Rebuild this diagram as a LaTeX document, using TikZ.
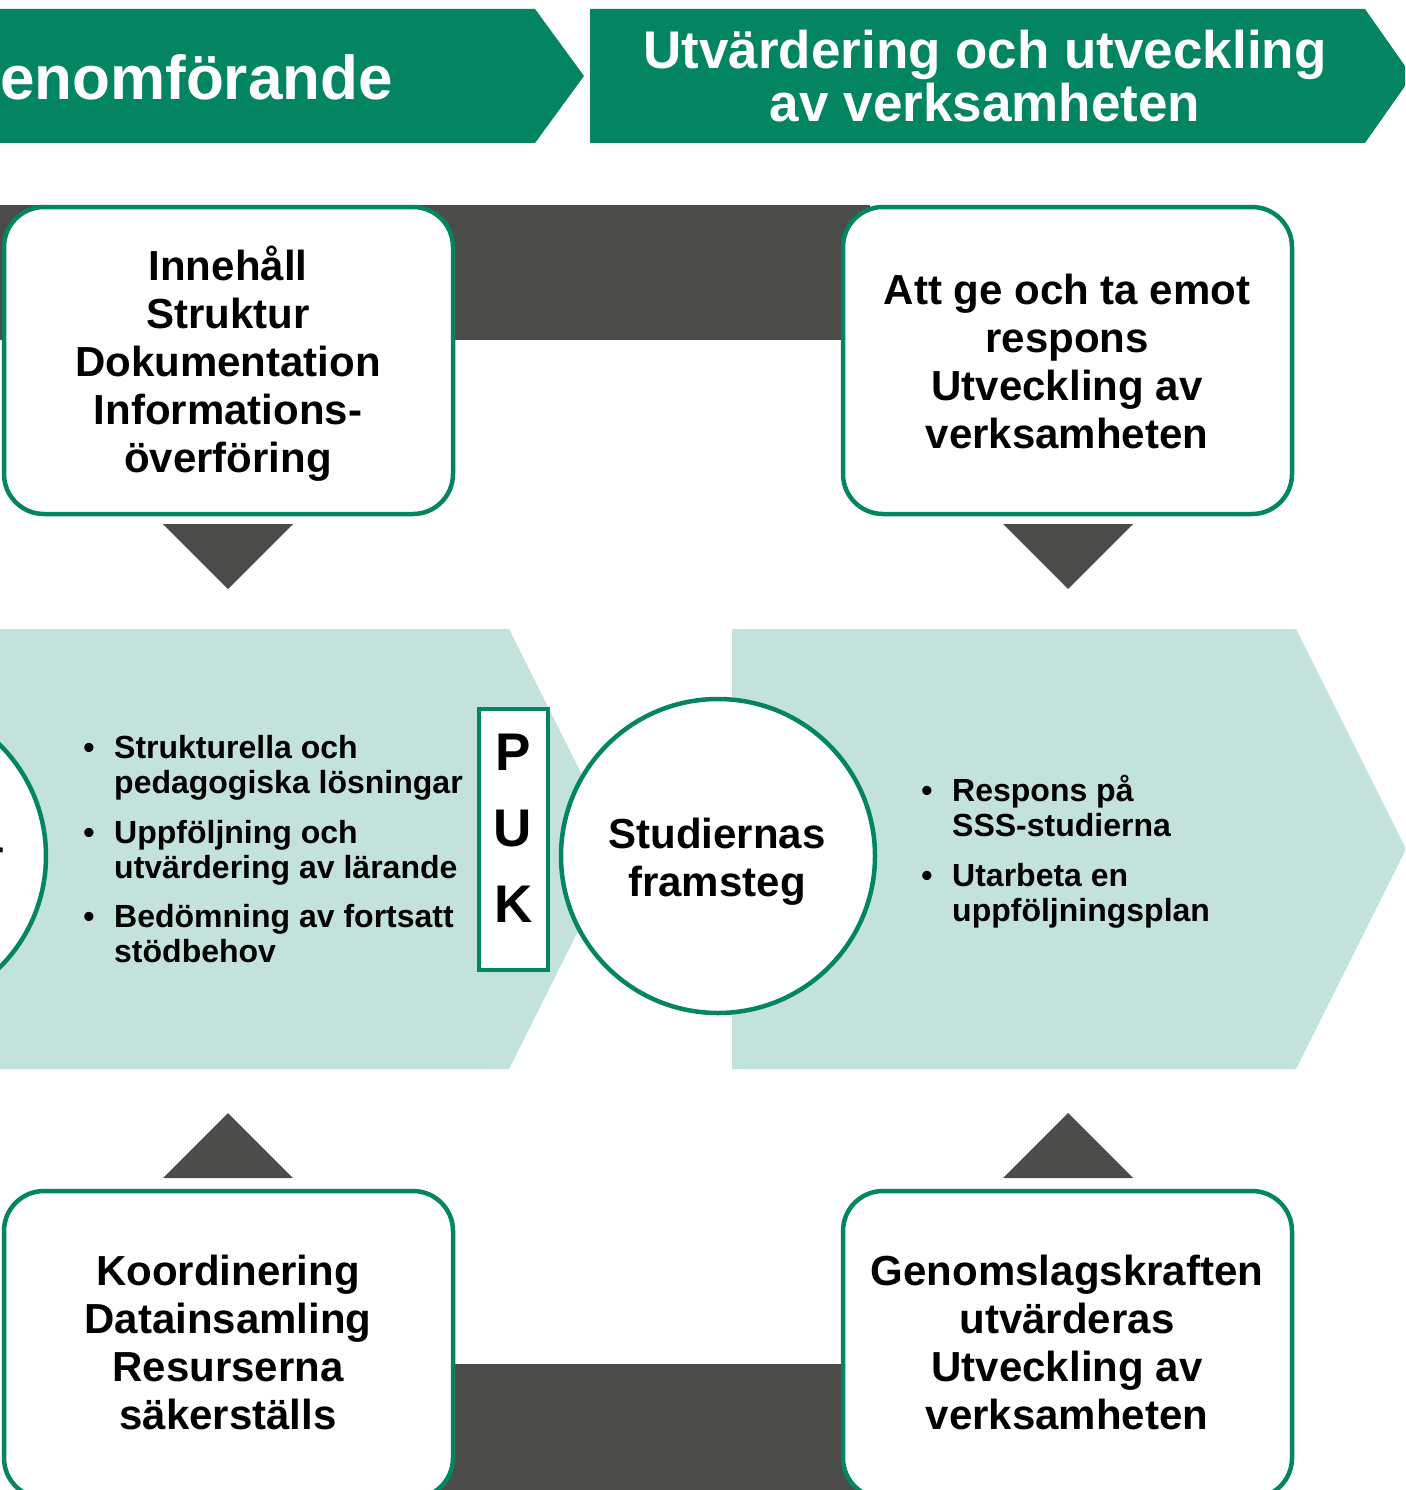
\documentclass[tikz,border=0pt]{standalone}
\usepackage{fontspec}
\setmainfont{Liberation Sans}
\definecolor{sgreen}{RGB}{2,133,96}
\definecolor{lteal}{RGB}{195,226,219}
\definecolor{dgray}{RGB}{75,75,74}
\tikzset{
  roundbox/.style={draw=sgreen, line width=4.5pt, fill=white, rounded corners=40pt,
    minimum width=449pt, minimum height=307pt, inner sep=0pt},
  ringnode/.style={circle, draw=sgreen, line width=4.5pt, fill=white, minimum size=314pt, inner sep=0pt},
  boxtxt/.style={inner sep=0pt, align=center, anchor=base,
    font=\fontsize{42}{48}\selectfont\bfseries},
  bannertxt/.style={inner sep=0pt, align=center, anchor=base, text=white,
    font=\fontsize{53}{53}\selectfont\bfseries},
  bultxt/.style={inner sep=0pt, align=left, anchor=base west,
    font=\fontsize{32}{35}\selectfont\bfseries},
  bulmark/.style={inner sep=0pt, anchor=base,
    font=\fontsize{32}{35}\selectfont\bfseries},
  pukletter/.style={inner sep=0pt, anchor=base, font=\fontsize{53}{53}\selectfont\bfseries},
  arrowtri/.style={fill=dgray},
}
\begin{document}
\begin{tikzpicture}[x=1pt,y=-1pt]
\useasboundingbox (0,0) rectangle (1405,1490);
\clip (0,0) rectangle (1405,1490);
% banners
\fill[sgreen] (-10,9) -- (535,9) -- (584,76) -- (535,143) -- (-10,143) -- cycle;
\fill[sgreen] (590,9) -- (1365,9) -- (1412,76) -- (1365,143) -- (590,143) -- cycle;
\node[bannertxt, font=\fontsize{62}{62}\selectfont\bfseries, anchor=base east] (b1txt) at (393,100) {Genomförande};
\node[bannertxt] (b2txt) at (985,122) {Utvärdering och utveckling\\av verksamheten};
% dark bands
\fill[dgray] (0,205) rectangle (870,340);
\fill[dgray] (200,1364) rectangle (1000,1500);
% light chevrons
\fill[lteal] (-10,629) -- (509,629) -- (619,849) -- (509,1069) -- (-10,1069) -- cycle;
\fill[lteal] (732,629) -- (1296,629) -- (1406,849) -- (1296,1069) -- (732,1069) -- cycle;
% triangles
\fill[arrowtri] (163,524) -- (293,524) -- (228,589) -- cycle;
\fill[arrowtri] (1003,524) -- (1133,524) -- (1068,589) -- cycle;
\fill[arrowtri] (163,1178) -- (293,1178) -- (228,1113) -- cycle;
\fill[arrowtri] (1003,1178) -- (1133,1178) -- (1068,1113) -- cycle;
% boxes
\node[roundbox] (tl) at (228.5,360.5) {};
\node[roundbox] (tr) at (1067.5,360.5) {};
\node[roundbox] (bl) at (228.5,1344.5) {};
\node[roundbox] (br) at (1067.5,1344.5) {};
\node[boxtxt] (tltxt) at (228,472) {Innehåll\\Struktur\\Dokumentation\\Informations-\\överföring};
\node[boxtxt] (trtxt) at (1067,448) {Att ge och ta emot\\respons\\Utveckling av\\verksamheten};
\node[boxtxt] (bltxt) at (228,1429) {Koordinering\\Datainsamling\\Resurserna\\säkerställs};
\node[boxtxt] (brtxt) at (1067,1429) {Genomslagskraften\\utvärderas\\Utveckling av\\verksamheten};
% circles
\node[ringnode] (lc) at (-111,856) {};
\node[boxtxt, anchor=base west] (lctxt) at (-13,870) {r};
\node[ringnode] (sc) at (718,856) {};
\node[boxtxt] (sctxt) at (717,896) {Studiernas\\framsteg};
% PUK
\node[draw=sgreen, line width=3.5pt, fill=white, minimum width=69pt, minimum height=261pt, inner sep=0pt] (puk) at (513.5,839.5) {};
\node[pukletter] (p) at (513,770) {P};
\node[pukletter] (u) at (513,846) {U};
\node[pukletter] (k) at (514,922) {K};
% left bullets
\node[bulmark] (m1) at (89,758) {•};
\node[bultxt] (l1) at (114,793) {Strukturella och\\pedagogiska lösningar};
\node[bulmark] (m2) at (89,843) {•};
\node[bultxt] (l2) at (114,878) {Uppföljning och\\utvärdering av lärande};
\node[bulmark] (m3) at (89,927) {•};
\node[bultxt] (l3) at (114,962) {Bedömning av fortsatt\\stödbehov};
% right bullets
\node[bulmark] (m4) at (927,801) {•};
\node[bultxt] (r1) at (952,836) {Respons på\\SSS-studierna};
\node[bulmark] (m5) at (927,886) {•};
\node[bultxt] (r2) at (952,921) {Utarbeta en\\uppföljningsplan};
\end{tikzpicture}
\end{document}
